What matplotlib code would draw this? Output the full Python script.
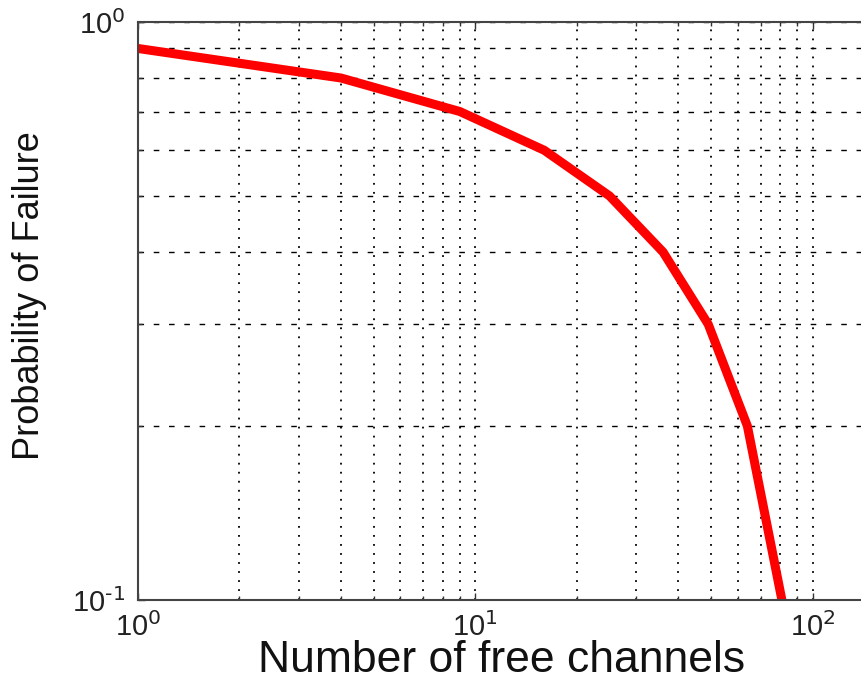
import matplotlib
matplotlib.use("Agg")
import matplotlib.pyplot as plt
import numpy as np
from matplotlib.ticker import LogLocator, NullFormatter, FuncFormatter

plt.rcParams['font.family'] = ['Liberation Sans', 'DejaVu Sans']
plt.rcParams['mathtext.default'] = 'regular'

# free channels (perfect squares) vs probability of failure
channels = [1, 4, 9, 16, 25, 36, 49, 64, 81]
p_failure = [0.9, 0.8, 0.7, 0.6, 0.5, 0.4, 0.3, 0.2, 0.1]


def pow10_label(val, pos):
    e = int(round(np.log10(val)))
    # MATLAB prints a plain hyphen in the exponent
    return r'$10^{\text{%d}}$' % e


fig = plt.figure(figsize=(8.61, 6.83), dpi=100)
# axes runs past the right edge of the picture, as in the cropped original
ax = fig.add_axes([0.160, 0.1215, 0.8624, 0.8463])

ax.plot(channels, p_failure, color='#ff0000', linewidth=6.5, solid_joinstyle='miter')

ax.set_xscale('log')
ax.set_yscale('log')
ax.set_xlim(1, 10 ** 2.2)
ax.set_ylim(0.1, 1.0)

ax.xaxis.set_major_locator(LogLocator(base=10))
ax.xaxis.set_minor_locator(LogLocator(base=10, subs=np.arange(2, 10)))
ax.yaxis.set_major_locator(LogLocator(base=10))
ax.yaxis.set_minor_locator(LogLocator(base=10, subs=np.arange(2, 10)))
ax.xaxis.set_major_formatter(FuncFormatter(pow10_label))
ax.yaxis.set_major_formatter(FuncFormatter(pow10_label))
ax.xaxis.set_minor_formatter(NullFormatter())
ax.yaxis.set_minor_formatter(NullFormatter())

ax.grid(True, which='both', axis='x', color='black', linestyle=(0, (1, 4)), linewidth=1.3)
ax.grid(True, which='both', axis='y', color='black', linestyle=(0, (4, 7)), linewidth=1.0)

ax.tick_params(which='both', direction='in', top=True, right=False, color='#333333')
ax.tick_params(which='major', length=5, width=1)
ax.tick_params(which='minor', length=3, width=1)
ax.tick_params(axis='both', labelsize=21, labelcolor='#222222', pad=9)

for side in ['left', 'bottom', 'top']:
    ax.spines[side].set_color('#444444')
    ax.spines[side].set_linewidth(1.5)
ax.spines['right'].set_visible(False)

ax.set_xlabel('Number of free channels', fontsize=32, color='#111111')
ax.set_ylabel('Probability of Failure', fontsize=26, color='#111111')
ax.xaxis.set_label_coords(0.490, -0.104)
ax.xaxis.label.set_va('center')
ax.yaxis.set_label_coords(-0.1455, 0.526)
ax.yaxis.label.set_va('center')

fig.savefig('out.png', dpi=100)
